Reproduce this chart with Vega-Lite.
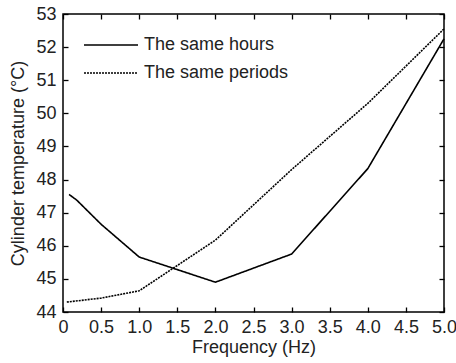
{
  "$schema": "https://vega.github.io/schema/vega-lite/v6.json",
  "width": 381,
  "height": 298,
  "autosize": "none",
  "padding": {"left": 63, "top": 14, "right": 12, "bottom": 51},
  "background": "white",
  "config": {
    "font": "Liberation Sans",
    "view": {"stroke": "black", "strokeWidth": 1.5},
    "axis": {
      "domain": false,
      "grid": false,
      "ticks": true,
      "tickColor": "black",
      "tickSize": -5,
      "tickWidth": 1.3,
      "labelFlush": false,
      "labelOverlap": false,
      "labelColor": "#222",
      "labelFont": "Liberation Sans",
      "labelFontSize": 18,
      "titleFont": "Liberation Sans",
      "titleFontSize": 18,
      "titleFontWeight": "normal",
      "titleColor": "#222"
    },
    "legend": {
      "title": null,
      "symbolType": "M-3,0H3",
      "symbolSize": 324,
      "symbolStrokeWidth": 1.6,
      "labelFontSize": 18,
      "labelColor": "#222",
      "labelFont": "Liberation Sans",
      "rowPadding": 9,
      "labelOffset": 23
    }
  },
  "data": {
    "values": [
      {"freq": 0.08, "temp": 47.55, "series": "The same hours"},
      {"freq": 0.18, "temp": 47.38, "series": "The same hours"},
      {"freq": 0.5, "temp": 46.65, "series": "The same hours"},
      {"freq": 1.0, "temp": 45.66, "series": "The same hours"},
      {"freq": 2.0, "temp": 44.9, "series": "The same hours"},
      {"freq": 3.0, "temp": 45.75, "series": "The same hours"},
      {"freq": 4.0, "temp": 48.33, "series": "The same hours"},
      {"freq": 5.0, "temp": 52.25, "series": "The same hours"},
      {"freq": 0.05, "temp": 44.3, "series": "The same periods"},
      {"freq": 0.5, "temp": 44.42, "series": "The same periods"},
      {"freq": 1.0, "temp": 44.64, "series": "The same periods"},
      {"freq": 2.0, "temp": 46.17, "series": "The same periods"},
      {"freq": 3.0, "temp": 48.3, "series": "The same periods"},
      {"freq": 4.0, "temp": 50.3, "series": "The same periods"},
      {"freq": 5.0, "temp": 52.55, "series": "The same periods"}
    ]
  },
  "layer": [
    {
      "mark": {"type": "line", "strokeWidth": 1.6},
      "encoding": {
        "x": {
          "field": "freq", "type": "quantitative",
          "scale": {"domain": [0, 5], "nice": false},
          "axis": {
            "title": "Frequency (Hz)",
            "values": [0, 0.5, 1, 1.5, 2, 2.5, 3, 3.5, 4, 4.5, 5],
            "labelExpr": "datum.value == 0 ? '0' : format(datum.value, '.1f')",
            "labelPadding": 11,
            "titlePadding": 2
          }
        },
        "y": {
          "field": "temp", "type": "quantitative",
          "scale": {"domain": [44, 53], "nice": false, "zero": false},
          "axis": {
            "title": "Cylinder temperature (°C)",
            "values": [44, 45, 46, 47, 48, 49, 50, 51, 52, 53],
            "labelPadding": 12,
            "titlePadding": 8
          }
        },
        "color": {
          "field": "series", "type": "nominal",
          "scale": {"domain": ["The same hours", "The same periods"], "range": ["black", "black"]},
          "legend": {"orient": "none", "legendX": 38, "legendY": 21}
        },
        "strokeDash": {
          "field": "series", "type": "nominal",
          "scale": {"domain": ["The same hours", "The same periods"], "range": [[1, 0], [2, 1]]},
          "legend": {"orient": "none", "legendX": 38, "legendY": 21}
        }
      }
    },
    {
      "mark": {"type": "line", "opacity": 0},
      "encoding": {
        "x": {
          "field": "freq", "type": "quantitative",
          "axis": {"orient": "top", "title": null, "labels": false,
                   "values": [0, 0.5, 1, 1.5, 2, 2.5, 3, 3.5, 4, 4.5, 5]}
        },
        "y": {
          "field": "temp", "type": "quantitative",
          "axis": {"orient": "right", "title": null, "labels": false,
                   "values": [44, 45, 46, 47, 48, 49, 50, 51, 52, 53]}
        },
        "detail": {"field": "series"}
      }
    }
  ],
  "resolve": {"axis": {"x": "independent", "y": "independent"}}
}
